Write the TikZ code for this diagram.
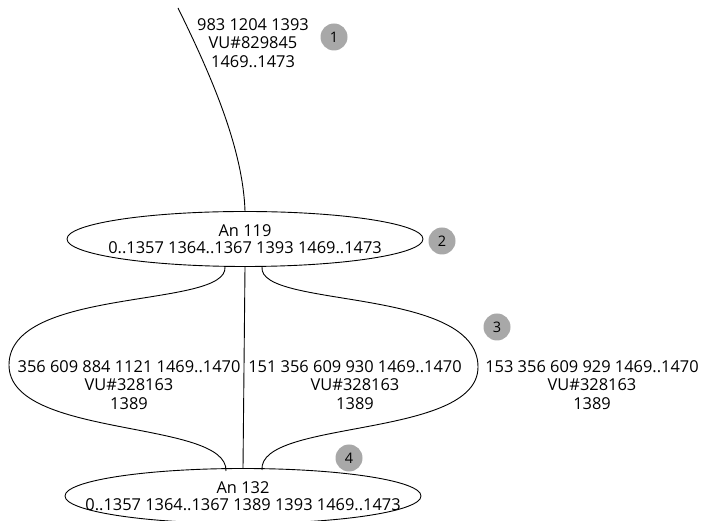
\documentclass[tikz,border=0pt]{standalone}
\usepackage{fontspec}
\setmainfont{Open Sans}
\usetikzlibrary{shapes.geometric}
\definecolor{badgegray}{RGB}{168,168,168}
\begin{document}
\begin{tikzpicture}[x=1pt,y=1pt,
  every node/.style={font=\fontsize{16.4}{18.8}\selectfont, inner sep=0pt},
  anbox/.style={draw, ellipse, minimum width=356pt, minimum height=55pt, inner xsep=-45pt, inner ysep=0pt, line width=0.9pt, align=center, font=\fontsize{16.4}{16.5}\selectfont},
  elabel/.style={align=center},
  badge/.style={circle, fill=badgegray, minimum size=27pt, font=\fontsize{14.5}{16}\selectfont},
  conn/.style={line width=0.9pt}]
\useasboundingbox (0,0) rectangle (703,521);
\node[anbox] (n119) at (245,282) {An 119\\0..1357 1364..1367 1393 1469..1473};
\node[anbox] (n132) at (243,25) {An 132\\0..1357 1364..1367 1389 1393 1469..1473};
\coordinate (src) at (178,513);
\draw[conn] (src) .. controls (214,440) and (243,370) .. (n119.north);
\node[elabel] (l1) at (253,478) {983 1204 1393\\VU\#829845\\1469..1473};
\node[badge] (b1) at (334,484) {1};
\node[badge] (b2) at (442,280) {2};
\node[badge] (b3) at (497,194) {3};
\node[badge] (b4) at (349,63) {4};
\coordinate (lt) at (225,254);
\coordinate (lb) at (226,50);
\coordinate (rt) at (262,254);
\coordinate (rb) at (262,51);
\draw[conn] (lt) .. controls (228,212) and (9,235) .. (9,156) .. controls (9,82) and (228,102) .. (lb);
\draw[conn] (rt) .. controls (258,212) and (478,235) .. (478,154) .. controls (478,82) and (258,102) .. (rb);
\draw[conn] (n119.south) -- (n132.north);
\node[elabel] (l2) at (129,136) {356 609 884 1121 1469..1470\\VU\#328163\\1389};
\node[elabel] (l3) at (355,136) {151 356 609 930 1469..1470\\VU\#328163\\1389};
\node[elabel] (l4) at (592,136) {153 356 609 929 1469..1470\\VU\#328163\\1389};
\end{tikzpicture}
\end{document}
